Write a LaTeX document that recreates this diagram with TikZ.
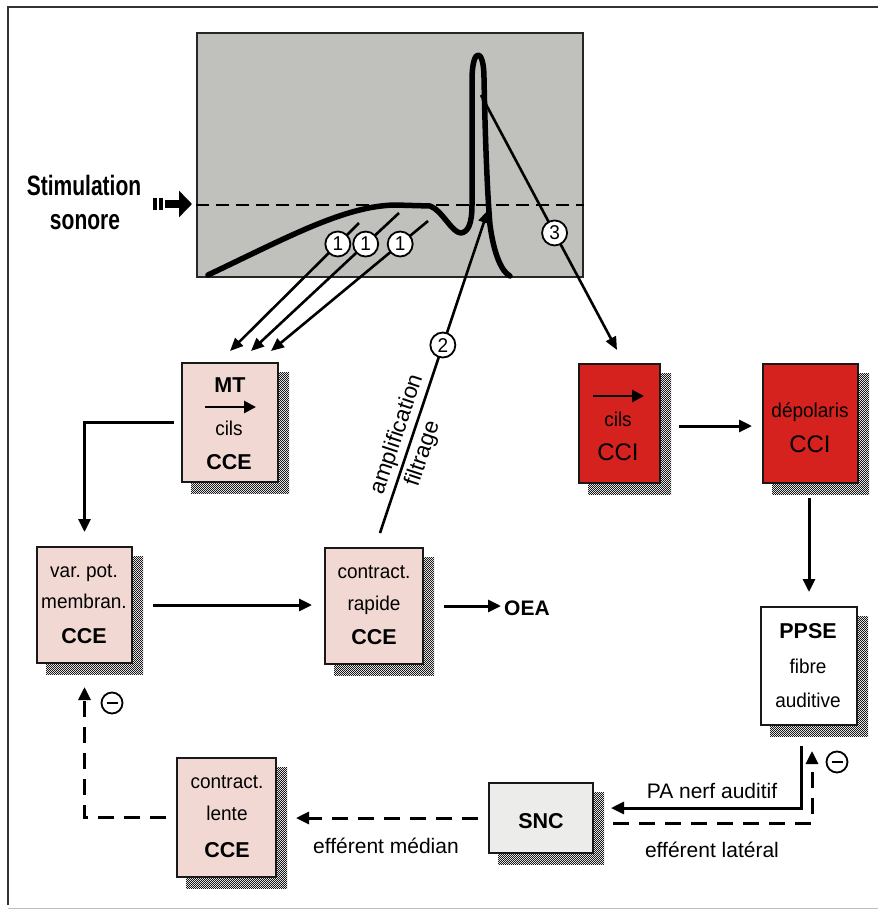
\documentclass[tikz,border=0pt]{standalone}
\usepackage{fontspec}
\setmainfont{Liberation Sans}
\newfontfamily\condfont[FakeStretch=0.95]{Liberation Sans}
\newfontfamily\stimfamily[FakeStretch=0.75]{Liberation Sans}
\newcommand\boldlab{\bfseries\fontsize{21.5}{26}\selectfont}
\newcommand\reglab{\condfont\fontsize{20}{24}\selectfont}
\newcommand\sloplab{\fontsize{22.5}{26}\selectfont}
\newcommand\connlab{\fontsize{21}{25}\selectfont}
\newcommand\numlab{\condfont\fontsize{20}{22}\selectfont}
\usetikzlibrary{arrows.meta,patterns.meta,backgrounds,calc}

\definecolor{pinkfill}{RGB}{242,216,210}
\definecolor{redfill}{RGB}{214,34,30}
\definecolor{graybox}{RGB}{192,192,189}
\definecolor{sncfill}{RGB}{236,236,234}

% fine dithered checker used for the box shadows
\tikzdeclarepattern{
  name=finecheck,
  type=uncolored,
  bottom left={(0pt,0pt)},
  top right={(2.4pt,2.4pt)},
  tile size={(2.4pt,2.4pt)},
  code={
    \pgfpathrectangle{\pgfpointorigin}{\pgfpoint{1.2pt}{1.2pt}}
    \pgfpathrectangle{\pgfpoint{1.2pt}{1.2pt}}{\pgfpoint{1.2pt}{1.2pt}}
    \pgfusepath{fill}
  }
}

\begin{document}
\begin{tikzpicture}[x=1pt,y=-1pt,
  box/.style={draw=black!90, line width=2pt, inner sep=0pt},
  conn/.style={line width=3pt, -{Triangle[length=13pt,width=12pt]}},
  thin conn/.style={line width=2.6pt, -{Triangle[length=13pt,width=11pt]}},
  dconn/.style={conn, dash pattern=on 16pt off 10pt},
  bl/.style={font=\boldlab, anchor=base, inner sep=0pt},
  rl/.style={font=\reglab, anchor=base, inner sep=0pt},
  cl/.style={font=\connlab, anchor=base, inner sep=0pt},
  num/.style={circle, draw, line width=1.8pt, fill=white, minimum size=25pt, inner sep=0pt, font=\numlab},
  minus/.style={circle, draw, line width=1.8pt, minimum size=21pt, inner sep=0pt},
]
\useasboundingbox (0,0) rectangle (878,911);

% outer frame
\draw[line width=1.8pt, black!80] (8,905) -- (8,7) -- (878,7);
\draw[line width=0.8pt, black!25] (8,908) -- (878,908);

% ---- response panel ----
\node[draw=black!85, line width=2pt, fill=graybox, minimum width=386pt, minimum height=244pt, inner sep=0pt] (osc) at (390,155) {};
\coordinate (lvl) at (0,205);
\draw[line width=2pt, dash pattern=on 13pt off 7pt] (osc.west |- lvl) -- (osc.east |- lvl);

% response curve: slow rise, dip, then sharp peak
\draw[line width=5.5pt, line join=round, line cap=round]
  (208,275) .. controls (290,236) and (345,206) .. (395,205)
  -- (430,206)
  .. controls (442,210) and (452,233) .. (461,233)
  .. controls (468,232) and (472,224) .. (472,205)
  -- (472,80)
  .. controls (472,47) and (484,47) .. (484,78)
  .. controls (485,130) and (487,190) .. (490,225)
  .. controls (494,255) and (502,272) .. (510,276);

% sound stimulation input
\node[font=\stimfamily\bfseries\fontsize{28}{32}\selectfont, anchor=base, inner sep=0pt] (stim1) at (84,195) {Stimulation};
\node[font=\stimfamily\bfseries\fontsize{28}{32}\selectfont, anchor=base, inner sep=0pt] (stim2) at (85,229) {sonore};
\fill (153,198) rectangle (157,210);
\fill (159,198) rectangle (163,210);
\coordinate (stimstart) at (165,204);
\draw[line width=8pt, -{Triangle[length=13pt,width=26pt]}] (stimstart) -- ([xshift=-4pt]osc.west |- stimstart);

% ---- boxes ----
\node[box, fill=pinkfill, minimum width=96pt, minimum height=119pt] (mt) at (230,422.5) {};
\node[box, fill=pinkfill, minimum width=95pt, minimum height=116pt] (var) at (84.5,605) {};
\node[box, fill=pinkfill, minimum width=98pt, minimum height=116pt] (rap) at (374,606) {};
\node[box, fill=pinkfill, minimum width=99pt, minimum height=119pt] (lente) at (226.5,817.5) {};
\node[box, fill=redfill, minimum width=81pt, minimum height=119pt] (cils) at (619.5,423.5) {};
\node[box, fill=redfill, minimum width=95pt, minimum height=119pt] (depol) at (810.5,423.5) {};
\node[box, fill=white, minimum width=96pt, minimum height=118pt] (ppse) at (809,666) {};
\node[box, fill=sncfill, minimum width=104pt, minimum height=70pt] (snc) at (541,818) {};

% drop shadows
\begin{scope}[on background layer]
  \fill[white] (0,0) rectangle (878,911);
  \foreach \n in {mt,var,rap,lente,cils,depol,ppse,snc}
    \fill[pattern=finecheck, pattern color=black!90]
      ([xshift=10pt,yshift=-10pt]\n.south west) rectangle ([xshift=10pt,yshift=-10pt]\n.north east);
\end{scope}

% box texts
\node[bl] (mtA) at (230,392) {MT};
\coordinate (mtarL) at (205,407);
\coordinate (mtarR) at (256,407);
\draw[line width=2.8pt, -{Triangle[length=12pt,width=12pt]}] (mtarL) -- (mtarR);
\node[rl] (mtB) at (229,435) {cils};
\node[bl] (mtC) at (229,469) {CCE};

\node[rl] (varA) at (84,577) {var.\ pot.};
\node[rl] (varB) at (84,608) {membran.};
\node[bl] (varC) at (84,643) {CCE};

\node[rl] (rapA) at (374,578) {contract.};
\node[rl] (rapB) at (374,610) {rapide};
\node[bl] (rapC) at (374,644) {CCE};

\node[rl] (lenA) at (227,788) {contract.};
\node[rl] (lenB) at (227,820) {lente};
\node[bl] (lenC) at (227,857) {CCE};

\coordinate (ciarL) at (593,396);
\coordinate (ciarR) at (644,396);
\draw[line width=2.8pt, -{Triangle[length=12pt,width=12pt]}] (ciarL) -- (ciarR);
\node[rl] (ciB) at (618,426) {cils};
\node[rl, font=\fontsize{24}{27}\selectfont] (ciC) at (618,460) {CCI};

\node[rl] (deA) at (810,417) {dépolaris};
\node[rl, font=\fontsize{24}{27}\selectfont] (deC) at (810,452) {CCI};

\node[bl] (ppA) at (808,638) {PPSE};
\node[rl] (ppB) at (808,673) {fibre};
\node[rl] (ppC) at (808,707) {auditive};

\node[bl] (sncA) at (541,828) {SNC};

% ---- connectors ----
% mechanotransduction from the slow response
\coordinate (s1a) at (359,223);
\coordinate (t1a) at (230,351);
\coordinate (s1b) at (399,213);
\coordinate (t1b) at (251,351);
\coordinate (s1c) at (428,221);
\coordinate (t1c) at (271,351);
\draw[thin conn] (s1a) -- (t1a) node[num, pos=0.164] (n1a) {1};
\draw[thin conn] (s1b) -- (t1b) node[num, pos=0.225] (n1b) {1};
\draw[thin conn] (s1c) -- (t1c) node[num, pos=0.177] (n1c) {1};

% amplification feedback to the peak
\coordinate (a2s) at (380,533);
\coordinate (a2e) at (488,210);
\draw[thin conn] (a2s) -- (a2e)
  node[num, pos=0.582] (n2) {2}
  node[sloped, above=3pt, pos=0.29, font=\sloplab, inner sep=0pt] (ampl) {amplification}
  node[sloped, below=4pt, pos=0.26, font=\sloplab, inner sep=0pt] (filt) {filtrage};

% peak drives the inner hair cells
\coordinate (a3s) at (481,95);
\coordinate (a3e) at (617,350);
\draw[thin conn] (a3s) -- (a3e) node[num, pos=0.541] (n3) {3};

\draw[conn, shorten <=7pt, shorten >=14pt] (mt.west) -| (var.north);
\draw[conn, shorten <=20pt, shorten >=12pt] (var.east) -- (var.east -| rap.west);
\node[font=\connlab\bfseries, anchor=base west, inner sep=0pt] (oea) at (504,615) {OEA};
\draw[conn, shorten <=20pt, shorten >=3pt] (rap.east) -- (rap.east -| oea.west);

\draw[conn, shorten <=18pt, shorten >=10pt] ([yshift=-2.5pt]cils.east) -- ([yshift=-2.5pt]cils.east -| depol.west);
\draw[conn, shorten <=14pt, shorten >=14pt] (ppse.north |- depol.south) -- (ppse.north);

\draw[conn, shorten <=20pt, shorten >=17pt] ([xshift=-8pt]ppse.south) |- ([yshift=10pt]snc.east);
\node[cl] (pa) at (712,798) {PA nerf auditif};

\draw[dconn, shorten <=19pt, shorten >=25pt] ([yshift=-5pt]snc.east) -| ([xshift=3pt]ppse.south);
\node[cl] (efl) at (712,857) {efférent latéral};
\node[minus] (m2) at (837,762) {};
\draw[line width=2.2pt] ([xshift=-5.5pt]m2.center) -- ([xshift=5.5pt]m2.center);

\draw[dconn, shorten <=10pt, shorten >=19pt] (snc.west) -- (snc.west -| lente.east);
\node[cl] (efm) at (386,853) {efférent médian};

\draw[dconn, shorten <=10pt, shorten >=23pt] (lente.west) -| (var.south);
\node[minus] (m1) at (112,703) {};
\draw[line width=2.2pt] ([xshift=-5.5pt]m1.center) -- ([xshift=5.5pt]m1.center);

\end{tikzpicture}
\end{document}
